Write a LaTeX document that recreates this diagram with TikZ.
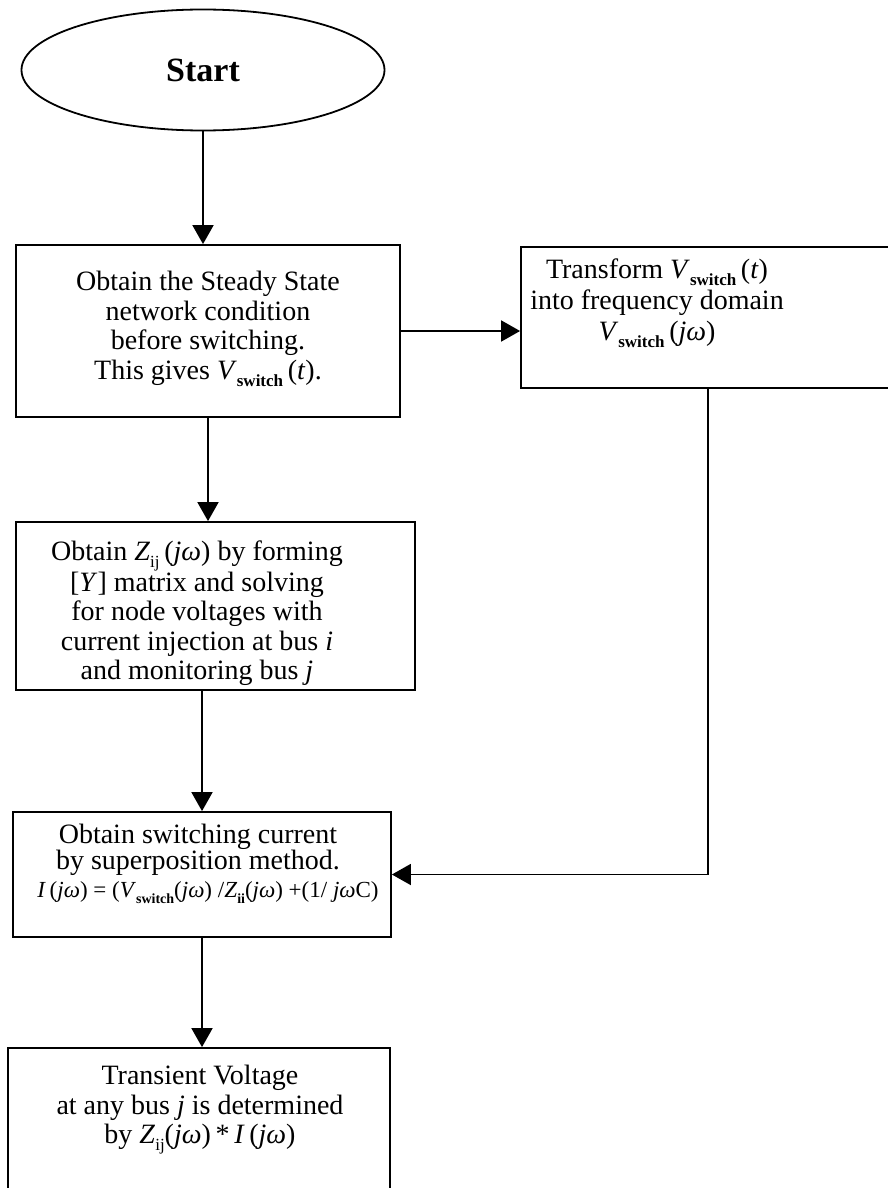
\documentclass[tikz,border=0pt]{standalone}
\usepackage{fontspec}
\setmainfont{Liberation Serif}
\usetikzlibrary{shapes.geometric,arrows.meta}
% lowered small text used for subscripts
\newcommand\subtxt[2][17]{\raisebox{-0.25em}{\fontsize{#1}{#1}\selectfont #2}}
\begin{document}
\begin{tikzpicture}[x=1pt,y=-1pt,
  line width=1.8pt,
  box/.style={draw, rectangle, inner sep=0pt},
  txt/.style={align=center, inner sep=0pt, font=\fontsize{28}{29.5}\selectfont},
  arr/.style={-{Triangle[length=19pt,width=21pt]}},
]
\useasboundingbox (0,0) rectangle (888,1188);
\clip (0,0) rectangle (888,1188);

% start terminal
\node[draw, ellipse, inner sep=0pt, minimum width=363, minimum height=121,
      font=\fontsize{34}{34}\selectfont\bfseries] (start) at (203,70) {\raisebox{-8pt}{Start}};

% process boxes
\node[box, minimum width=384, minimum height=172] (b1) at (208,331) {};
\node[box, minimum width=374, minimum height=141] (b2) at (708,317.5) {};
\node[box, minimum width=399, minimum height=168] (b3) at (215.5,606) {};
\node[box, minimum width=378, minimum height=125] (b4) at (202,874.5) {};
\node[box, minimum width=382, minimum height=152] (b5) at (199,1124) {};

% box texts
\node[txt] (t1) at (208,329) {Obtain the Steady State\\ network condition\\ before switching.\\
  This gives \textit{V}\subtxt{\bfseries switch}\,(\textit{t}).};
\node[txt, font=\fontsize{28}{31}\selectfont] (t2) at (657,303) {Transform \textit{V}\subtxt{\bfseries switch}\,(\textit{t})\\
  into frequency domain\\ \textit{V}\subtxt{\bfseries switch}\,(\textit{jω})};
\node[txt] (t3) at (197,613) {Obtain \textit{Z}\subtxt{ij}\,(\textit{jω}) by forming\\
  {[}\textit{Y}{]} matrix and solving\\ for node voltages with\\
  current injection at bus \textit{i}\\ and monitoring bus \textit{j}};
\node[txt, font=\fontsize{28}{26}\selectfont] (t4) at (198,864) {Obtain switching current\\ by superposition method.\\[2pt]
  \hspace*{20pt}{\fontsize{23}{23}\selectfont \textit{I}\,(\textit{jω}) = (\textit{V}\subtxt[14]{\bfseries switch}(\textit{jω}) /\textit{Z}\subtxt[14]{\bfseries ii}(\textit{jω}) +(1/ \textit{jω}C)}};
\node[txt] (t5) at (200,1110) {Transient Voltage\\ at any bus \textit{j} is determined\\
  by \textit{Z}\subtxt{ij}(\textit{jω})\,*\,\textit{I}\,(\textit{jω})};

% connectors
\draw[arr] (start.south) -- (start.south |- b1.north);
\draw[arr] (b1.east) -- (b1.east -| b2.west);
\draw[arr] (b1.south) -- (b1.south |- b3.north);
\draw[arr] (b3.south -| b4.north) -- (b4.north);
\draw[arr] (b2.south) |- (b4.east);
\draw[arr] (b4.south) -- (b4.south |- b5.north);
\end{tikzpicture}
\end{document}
